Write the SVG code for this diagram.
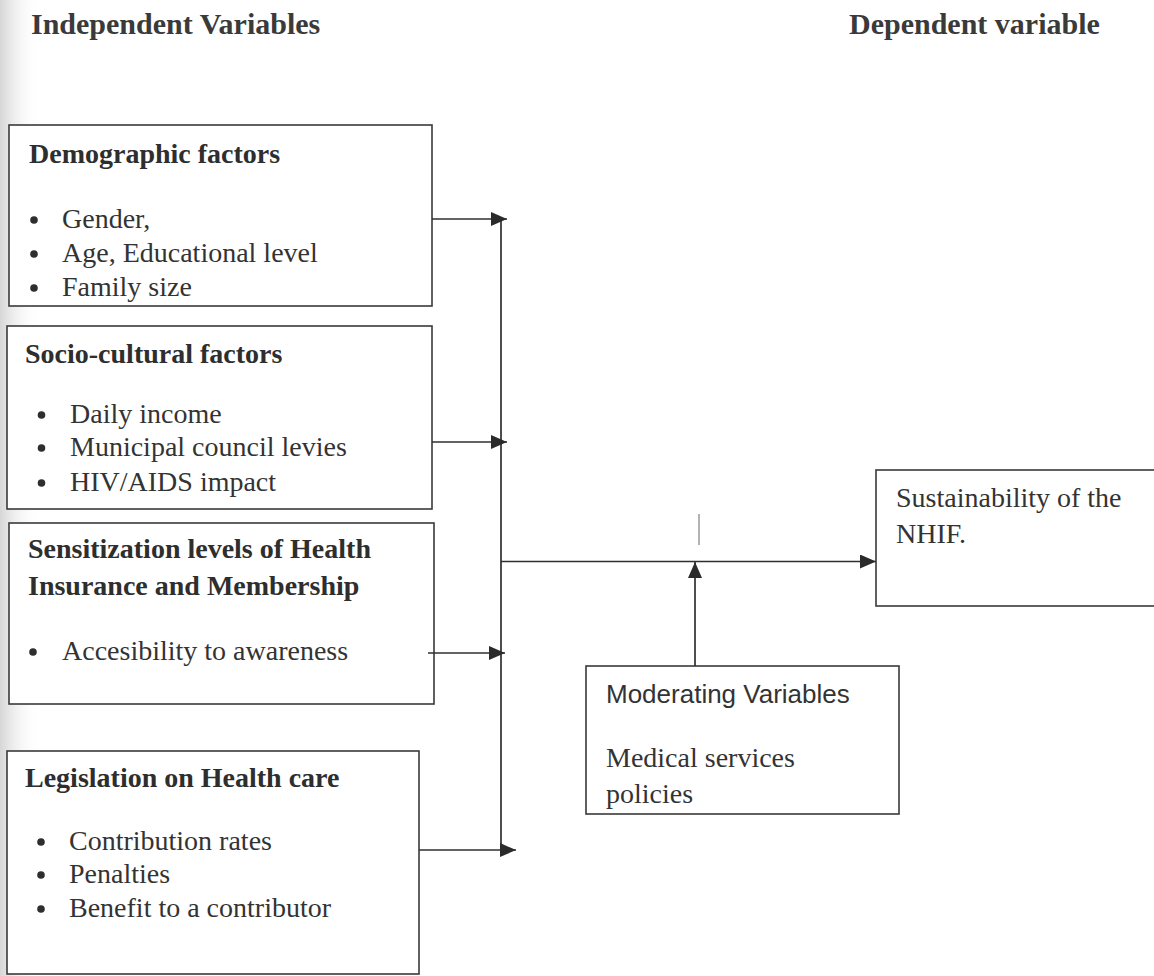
<svg xmlns="http://www.w3.org/2000/svg" width="1154" height="976" viewBox="0 0 1154 976">
  <defs>
    <linearGradient id="edge" x1="0" y1="0" x2="1" y2="0">
      <stop offset="0" stop-color="#d6d6d6"/>
      <stop offset="1" stop-color="#ffffff" stop-opacity="0"/>
    </linearGradient>
    <marker id="arrow" markerUnits="userSpaceOnUse" markerWidth="17" markerHeight="15" refX="16" refY="7" orient="auto">
      <path d="M0,0 L16,7 L0,14 Z" fill="#2b2b2b"/>
    </marker>
  </defs>
  <style>
    .box { fill: #ffffff; stroke: #3a3a3a; stroke-width: 1.6; }
    .head { font-family: "Liberation Serif", "Times New Roman", serif; font-size: 30px; font-weight: bold; fill: #3a3a3a; }
    .title { font-family: "Liberation Serif", "Times New Roman", serif; font-size: 28px; font-weight: bold; fill: #2e2e2e; }
    .body { font-family: "Liberation Serif", "Times New Roman", serif; font-size: 28px; fill: #333333; }
    .sans { font-family: "Liberation Sans", Arial, sans-serif; font-size: 26px; fill: #333333; }
    .dot { fill: #2e2e2e; }
    .conn { fill: none; stroke: #2f2f2f; stroke-width: 1.7; }
  </style>

  <rect x="0" y="0" width="1154" height="976" fill="#ffffff"/>
  <rect x="0" y="0" width="40" height="976" fill="url(#edge)"/>

  <g id="headers">
    <text class="head" x="31" y="34">Independent Variables</text>
    <text class="head" x="849" y="34">Dependent variable</text>
  </g>

  <g id="node-demographic">
    <rect class="box" x="9" y="125" width="423" height="181"/>
    <text class="title" x="29" y="163">Demographic factors</text>
    <circle class="dot" cx="34" cy="220" r="3.8"/>
    <text class="body" x="62" y="228">Gender,</text>
    <circle class="dot" cx="34" cy="254" r="3.8"/>
    <text class="body" x="62" y="262">Age, Educational level</text>
    <circle class="dot" cx="34" cy="288" r="3.8"/>
    <text class="body" x="62" y="296">Family size</text>
  </g>

  <g id="node-sociocultural">
    <rect class="box" x="7" y="326" width="425" height="183"/>
    <text class="title" x="25" y="363">Socio-cultural factors</text>
    <circle class="dot" cx="41.5" cy="415" r="3.8"/>
    <text class="body" x="70" y="423">Daily income</text>
    <circle class="dot" cx="41.5" cy="448" r="3.8"/>
    <text class="body" x="70" y="456">Municipal council levies</text>
    <circle class="dot" cx="41.5" cy="483" r="3.8"/>
    <text class="body" x="70" y="491">HIV/AIDS impact</text>
  </g>

  <g id="node-sensitization">
    <rect class="box" x="9" y="523" width="425" height="181"/>
    <text class="title" x="28" y="558">Sensitization levels of Health</text>
    <text class="title" x="28" y="595">Insurance and Membership</text>
    <circle class="dot" cx="33" cy="652" r="3.8"/>
    <text class="body" x="62" y="660">Accesibility to awareness</text>
  </g>

  <g id="node-legislation">
    <rect class="box" x="7" y="751" width="412" height="223"/>
    <text class="title" x="25" y="787">Legislation on Health care</text>
    <circle class="dot" cx="41" cy="842" r="3.8"/>
    <text class="body" x="69" y="850">Contribution rates</text>
    <circle class="dot" cx="41" cy="875" r="3.8"/>
    <text class="body" x="69" y="883">Penalties</text>
    <circle class="dot" cx="41" cy="909" r="3.8"/>
    <text class="body" x="69" y="917">Benefit to a contributor</text>
  </g>

  <g id="node-sustainability">
    <rect class="box" x="876" y="470" width="290" height="136"/>
    <text class="body" x="896" y="507">Sustainability of the</text>
    <text class="body" x="896" y="543">NHIF.</text>
  </g>

  <g id="node-moderating">
    <rect class="box" x="586" y="666" width="313" height="148"/>
    <text class="sans" x="606" y="703">Moderating Variables</text>
    <text class="body" x="606" y="767">Medical services</text>
    <text class="body" x="606" y="803">policies</text>
  </g>

  <g id="connectors">
    <path class="conn" d="M501,219 V850"/>
    <path class="conn" d="M432,219 H507" marker-end="url(#arrow)"/>
    <path class="conn" d="M432,442 H507" marker-end="url(#arrow)"/>
    <path class="conn" d="M428,653 H505" marker-end="url(#arrow)"/>
    <path class="conn" d="M419,850 H516" marker-end="url(#arrow)"/>
    <path class="conn" d="M501,561.5 H876" marker-end="url(#arrow)"/>
    <path class="conn" d="M695,666 V562" marker-end="url(#arrow)"/>
    <path d="M699,514 V545" fill="none" stroke="#666666" stroke-width="1"/>
  </g>
</svg>
